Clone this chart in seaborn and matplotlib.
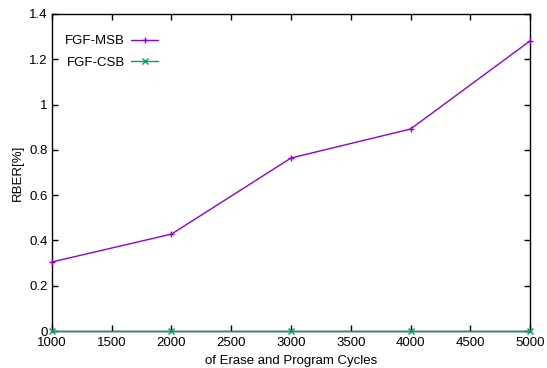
import matplotlib
matplotlib.use('Agg')
import matplotlib.pyplot as plt
import seaborn as sns

# data
cycles = [1000, 2000, 3000, 4000, 5000]
msb_rber = [0.305, 0.428, 0.764, 0.892, 1.281]
csb_rber = [0.0, 0.0, 0.0, 0.0, 0.0]
series_names = ['FGF-MSB', 'FGF-CSB']
x_ticks = [1000, 1500, 2000, 2500, 3000, 3500, 4000, 4500, 5000]
y_ticks = [0, 0.2, 0.4, 0.6, 0.8, 1.0, 1.2, 1.4]
y_labels = ['0', '0.2', '0.4', '0.6', '0.8', '1', '1.2', '1.4']

sns.set_style('ticks')
plt.rcParams['font.family'] = ['Liberation Sans', 'DejaVu Sans']
plt.rcParams['text.color'] = 'black'
plt.rcParams['axes.labelcolor'] = 'black'

fig = plt.figure(figsize=(5.47, 3.68), dpi=100)
ax = fig.add_axes([0.095, 0.1005, 0.874, 0.8615])

# one call per series so each keeps its own marker
for name, vals, col, mk in [(series_names[0], msb_rber, '#9400d3', '+'),
                            (series_names[1], csb_rber, '#009e73', 'x')]:
    sns.lineplot(x=cycles, y=vals, color=col, marker=mk, markersize=5,
                 markeredgewidth=1, markeredgecolor=col, linewidth=1,
                 label=name, ax=ax, clip_on=False, zorder=3)

ax.set_xlim(1000, 5000)
ax.set_ylim(0, 1.4)
ax.set_xticks(x_ticks)
ax.set_yticks(y_ticks)
ax.set_yticklabels(y_labels)
ax.tick_params(direction='in', top=True, right=True, length=4, width=1,
               labelsize=9.5, colors='black', pad=3)
ax.tick_params(axis='x', pad=4.5)
for sp in ax.spines.values():
    sp.set_linewidth(1)
    sp.set_color('black')

ax.set_xlabel('of Erase and Program Cycles', fontsize=9.5, labelpad=4)
ax.set_ylabel('RBER[%]', fontsize=9.5, labelpad=4)

ax.legend(loc='upper left', frameon=False, markerfirst=False, fontsize=9.5,
          handlelength=2.0, handletextpad=0.5, borderaxespad=0,
          labelspacing=0.7, bbox_to_anchor=(0.016, 0.95))

fig.savefig('out.png', dpi=100)
